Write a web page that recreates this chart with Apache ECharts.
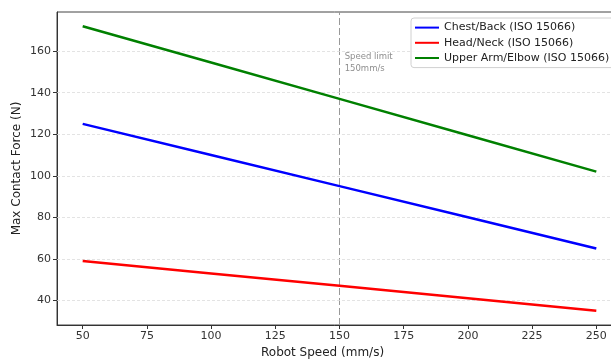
<!DOCTYPE html>
<html>
<head>
<meta charset="utf-8">
<script src="https://cdn.jsdelivr.net/npm/echarts@6/dist/echarts.min.js"></script>
<style>
  html, body { margin: 0; padding: 0; background: #fff; }
  #chart { width: 611px; height: 361px; }
</style>
</head>
<body>
<div id="chart"></div>
<script>
// 数据
const speeds = [50, 100, 150, 200, 250];
const chestBack = [125, 110, 95, 80, 65];
const headNeck = [59, 53, 47, 41, 35];
const upperArm = [172, 154.5, 137, 119.5, 102];
const speedLimit = 150;

// 刻度
const xTicks = [50, 75, 100, 125, 150, 175, 200, 225, 250];
const yTicks = [40, 60, 80, 100, 120, 140, 160];

const font = 'DejaVu Sans';

function toPairs(ys) {
  return speeds.map((x, i) => [x, ys[i]]);
}

const chart = echarts.init(document.getElementById('chart'));

const option = {
  animation: false,
  textStyle: { fontFamily: font },
  title: {
    text: 'Robot Speed (mm/s)',
    left: 261,
    top: 347,
    padding: 0,
    textStyle: { fontSize: 12, fontWeight: 'normal', color: '#222', fontFamily: font }
  },
  legend: {
    orient: 'vertical',
    left: 411,
    top: 18,
    padding: [4, 6, 4, 3],
    itemWidth: 24,
    itemHeight: 14,
    itemGap: 4,
    borderColor: '#d0d0d0',
    borderWidth: 1,
    borderRadius: 3,
    backgroundColor: 'rgba(255,255,255,0.85)',
    itemStyle: { opacity: 0 },
    textStyle: { fontSize: 11, color: '#222', fontFamily: font },
    data: ['Chest/Back (ISO 15066)', 'Head/Neck (ISO 15066)', 'Upper Arm/Elbow (ISO 15066)']
  },
  grid: {
    left: 57,
    top: 12,
    right: -11,
    bottom: 36,
    containLabel: false,
    outerBoundsMode: 'none',
    show: true,
    borderColor: '#444',
    borderWidth: 1
  },
  xAxis: {
    type: 'value',
    min: 40,
    max: 260,
    axisLine: { show: true, lineStyle: { color: '#333' } },
    axisTick: { show: true, length: 4, customValues: xTicks, lineStyle: { color: '#333' } },
    axisLabel: { fontSize: 11, color: '#333', margin: 6, customValues: xTicks },
    splitLine: { show: false }
  },
  yAxis: {
    type: 'value',
    min: 28.15,
    max: 178.85,
    name: 'Max Contact Force (N)',
    nameLocation: 'middle',
    nameGap: 34,
    nameMoveOverlap: false,
    nameTextStyle: { fontSize: 12, color: '#222', fontFamily: font },
    axisLine: { show: true, lineStyle: { color: '#333' } },
    axisTick: { show: true, length: 4, customValues: yTicks, lineStyle: { color: '#333' } },
    axisLabel: { fontSize: 11, color: '#333', margin: 6, customValues: yTicks },
    splitLine: { show: false }
  },
  series: [
    {
      name: 'Chest/Back (ISO 15066)',
      type: 'line',
      data: toPairs(chestBack),
      symbol: 'none',
      z: 3,
      lineStyle: { color: '#0000ff', width: 2.5 },
      itemStyle: { color: '#0000ff' },
      markLine: {
        silent: true,
        symbol: 'none',
        label: { show: false },
        z: 1,
        data: [
          { xAxis: speedLimit, lineStyle: { color: '#999', type: [7, 3], width: 1 } }
        ].concat(yTicks.map(v => ({
          yAxis: v,
          lineStyle: { color: '#dcdcdc', type: [3, 2], width: 0.8 }
        })))
      },
      markPoint: {
        silent: true,
        symbol: 'circle',
        symbolSize: 0,
        itemStyle: { color: 'transparent' },
        label: {
          show: true,
          position: 'right',
          distance: 0,
          formatter: 'Speed limit\n150mm/s',
          fontSize: 8.5,
          lineHeight: 12,
          color: '#8f8f8f',
          fontFamily: font
        },
        data: [{ coord: [152, 154.4] }]
      }
    },
    {
      name: 'Head/Neck (ISO 15066)',
      type: 'line',
      data: toPairs(headNeck),
      symbol: 'none',
      z: 3,
      lineStyle: { color: '#ff0000', width: 2.5 },
      itemStyle: { color: '#ff0000' }
    },
    {
      name: 'Upper Arm/Elbow (ISO 15066)',
      type: 'line',
      data: toPairs(upperArm),
      symbol: 'none',
      z: 3,
      lineStyle: { color: '#008000', width: 2.5 },
      itemStyle: { color: '#008000' }
    }
  ]
};

chart.setOption(option);
</script>
</body>
</html>
